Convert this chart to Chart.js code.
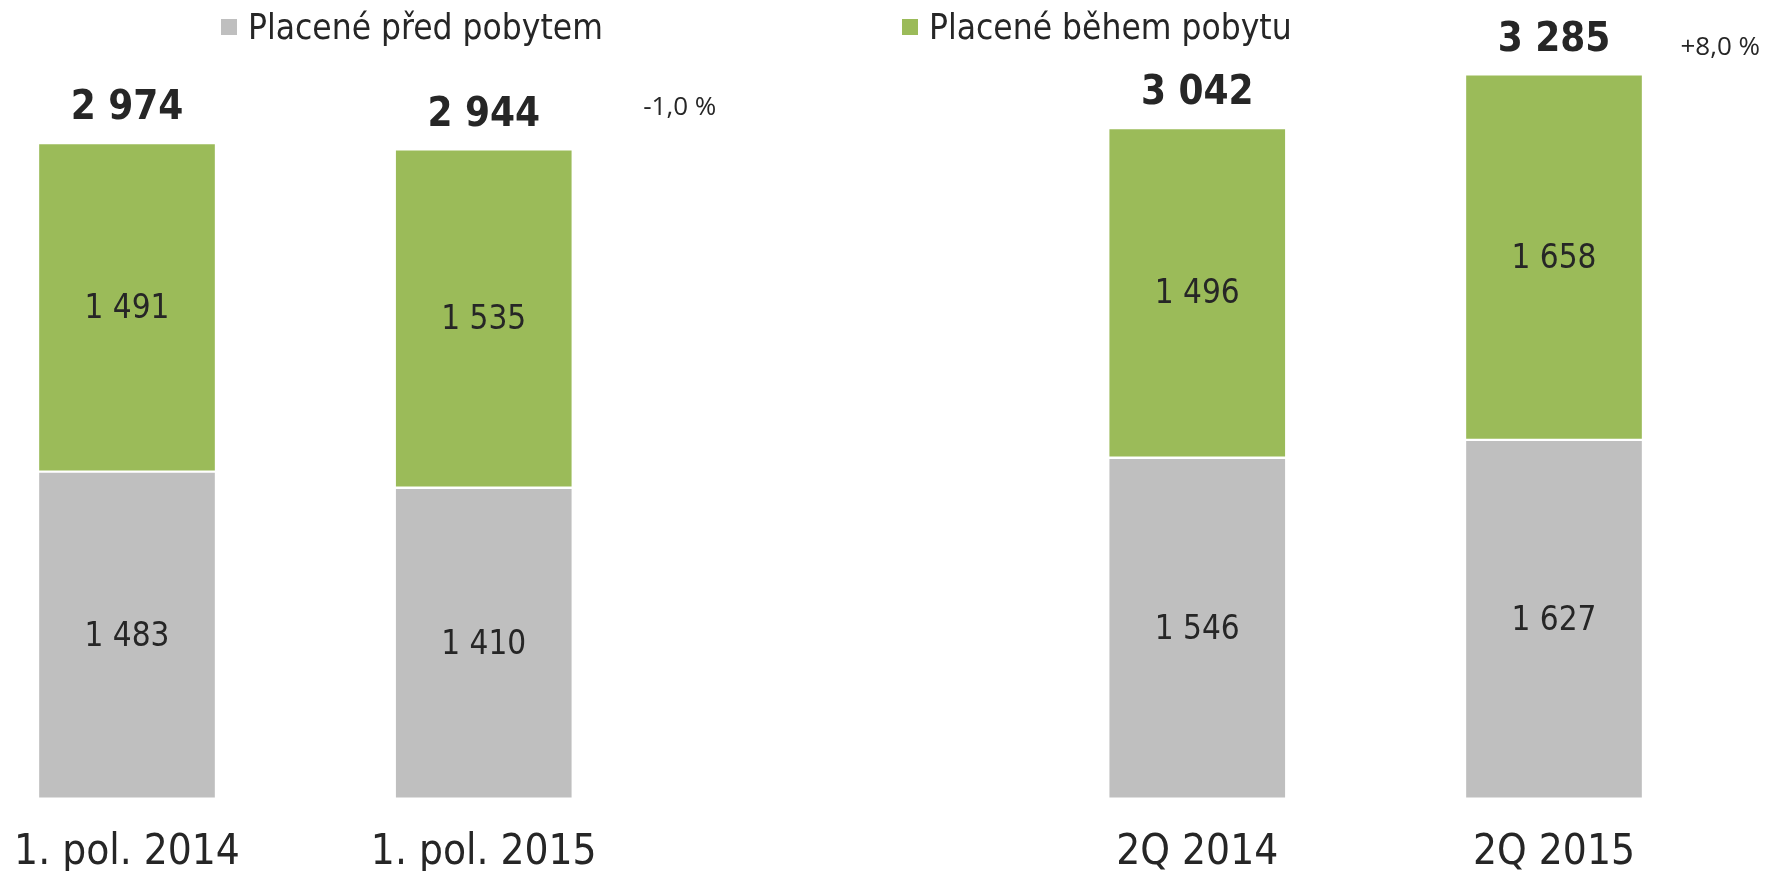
<!DOCTYPE html>
<html lang="cs">
<head>
<meta charset="utf-8">
<script src="https://cdn.jsdelivr.net/npm/chart.js@4.4.1/dist/chart.umd.min.js"></script>
<style>
    html, body { margin: 0; padding: 0; background: #fff; }
    #wrap { position: relative; width: 1766px; height: 871px; }
    #legenda { position: absolute; top: 0; left: 0; width: 100%; height: 54px; }
    .polozka {
        position: absolute; top: 0; height: 54px;
        display: flex; align-items: center;
        font-family: "DejaVu Sans Condensed", "DejaVu Sans", sans-serif;
        font-size: 35px; color: #262626; white-space: nowrap;
    }
    .box { width: 16px; height: 16px; margin-right: 11px; }
</style>
</head>
<body>
<div id="wrap">
    <canvas id="graf"></canvas>
    <div id="legenda"></div>
</div>
<script>
const kategorie = ["1. pol. 2014", "1. pol. 2015", "", "2Q 2014", "2Q 2015"]
const predPobytem = [1483, 1410, null, 1546, 1627]
const behemPobytu = [1491, 1535, null, 1496, 1658]
const celkem = [2974, 2944, null, 3042, 3285]
const zmena = [null, "-1,0 %", null, null, "+8,0 %"]

const SEDA = "#bfbfbf"
const ZELENA = "#9bbb59"
const TEXT = "#262626"
const FONT = "'DejaVu Sans Condensed', 'DejaVu Sans', sans-serif"

function fmt(v){
    return String(v).replace(/\B(?=(\d{3})+(?!\d))/g, " ")
}

// hodnoty uvnitr segmentu, soucty nad sloupci a mezirocni zmena
const popisky = {
    id: "popisky",
    afterDatasetsDraw(chart){
        const ctx = chart.ctx
        const y = chart.scales.y
        const posunZmeny = { 1: -42, 4: -27 }
        ctx.save()
        ctx.textAlign = "center"
        ctx.textBaseline = "middle"
        ctx.fillStyle = TEXT

        ctx.font = `33px ${FONT}`
        chart.data.datasets.forEach((ds, di) => {
            chart.getDatasetMeta(di).data.forEach((bar, i) => {
                if(ds.data[i] == null) return
                ctx.fillText(fmt(ds.data[i]), bar.x, (bar.y + bar.base) / 2 + 2)
            })
        })

        const horni = chart.getDatasetMeta(1).data
        celkem.forEach((v, i) => {
            if(v == null) return
            const top = y.getPixelForValue(v)
            ctx.font = `bold 40px ${FONT}`
            ctx.fillText(fmt(v), horni[i].x, top - 34)

            if(zmena[i]){
                ctx.font = `26px 'Open Sans', sans-serif`
                const w = ctx.measureText(zmena[i]).width
                let x = horni[i].x + 196
                if(x + w / 2 > chart.width - 6){
                    x = chart.width - 6 - w / 2
                }
                ctx.fillText(zmena[i], x, top + (posunZmeny[i] || -33))
            }
        })
        ctx.restore()
    }
}

function vytvorLegendu(chart){
    const legenda = document.getElementById("legenda")
    const pozice = [221, 902]
    legenda.innerHTML = chart.data.datasets
        .map((ds, i) => `<div class="polozka" style="left:${pozice[i]}px"><span class="box" style="background:${ds.backgroundColor}"></span>${ds.label}</div>`)
        .join("")
}

const graf = new Chart(document.getElementById("graf"), {
    type: "bar",
    data: {
        labels: kategorie,
        datasets: [
            {
                label: "Placené před pobytem",
                data: predPobytem,
                backgroundColor: SEDA,
                borderColor: "rgba(255,255,255,0.75)",
                borderWidth: 1.5,
                borderSkipped: false,
                barThickness: 178,
                clip: false
            },
            {
                label: "Placené během pobytu",
                data: behemPobytu,
                backgroundColor: ZELENA,
                borderColor: "rgba(255,255,255,0.75)",
                borderWidth: 1.5,
                borderSkipped: false,
                barThickness: 178,
                clip: false
            }
        ]
    },
    options: {
        responsive: true,
        maintainAspectRatio: false,
        animation: false,
        layout: { padding: { left: 127, right: 212, top: 5, bottom: -36 } },
        plugins: {
            legend: { display: false },
            tooltip: { enabled: false }
        },
        scales: {
            x: {
                stacked: true,
                offset: false,
                grid: { display: false, drawTicks: false },
                border: { display: false },
                ticks: {
                    color: TEXT,
                    padding: 29,
                    maxRotation: 0,
                    autoSkip: false,
                    font: { family: FONT, size: 42, lineHeight: 1.2 }
                },
                afterFit(scale){
                    // popisky krajnich sloupcu se vejdou, okraj drzi layout.padding
                    scale.paddingLeft = 0
                    scale.paddingRight = 0
                }
            },
            y: {
                stacked: true,
                display: false,
                min: 0,
                max: 3600
            }
        }
    },
    plugins: [popisky]
})

vytvorLegendu(graf)
</script>
</body>
</html>
